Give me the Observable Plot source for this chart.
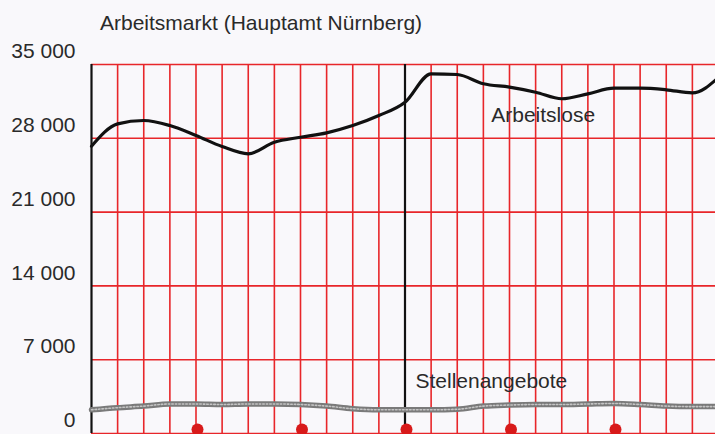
<!DOCTYPE html>
<html>
<head>
<meta charset="utf-8">
<script src="https://cdn.jsdelivr.net/npm/d3@7"></script>
<script src="https://cdn.jsdelivr.net/npm/@observablehq/plot@0.6"></script>
<style>
  html, body { margin: 0; padding: 0; background: #f9f8fb; }
  body { width: 715px; height: 434px; overflow: hidden; font-family: "Liberation Sans", Arial, sans-serif; }
  #title { position: relative; height: 40px; }
  #title span { position: absolute; left: 100px; top: 12px; font-size: 21px; line-height: 21px; color: #2a2a2a; white-space: nowrap; }
  #chart svg { display: block; }
</style>
</head>
<body>
<div id="title"><span>Arbeitsmarkt (Hauptamt Nürnberg)</span></div>
<div id="chart"></div>
<script>
// Months (0 = start of first year, 12 = start of second year, 24 = start of third)
const months = [0,1,2,3,4,5,6,7,8,9,10,11,12,13,14,15,16,17,18,19,20,21,22,23,24];
// Arbeitslose (unemployed)
const arbeitslose = [27250, 29370, 29690, 29210, 28270, 27220, 26530, 27630, 28100, 28520, 29210, 30160, 31420, 34120, 34050, 33170, 32850, 32370, 31750, 32220, 32750, 32750, 32600, 32310, 33770];
// Stellenangebote (job offers)
const stellenangebote = [2250, 2450, 2600, 2800, 2800, 2750, 2800, 2800, 2750, 2600, 2350, 2250, 2250, 2250, 2300, 2600, 2700, 2750, 2750, 2800, 2850, 2750, 2600, 2550, 2550];
// Axis ticks
const yTicks = [0, 7000, 14000, 21000, 28000, 35000];
const monthLines = [1,2,3,4,5,6,7,8,9,10,11,13,14,15,16,17,18,19,20,21,22,23];
const yearLines = [0, 12];
const dotMonths = [4, 8, 12, 16, 20];
const seriesLabels = ["Arbeitslose", "Stellenangebote"];

const rowsA = months.map((m, i) => ({m, v: arbeitslose[i]}));
const rowsS = months.map((m, i) => ({m, v: stellenangebote[i]}));

const loc = d3.formatLocale({decimal: ",", thousands: " ", grouping: [3], currency: ["", ""]});
const fmt = loc.format(",");

const RED = "#e8262a";

const chart = Plot.plot({
  width: 715,
  height: 394,
  marginTop: 24,
  marginBottom: 1,
  marginLeft: 91,
  marginRight: 0,
  style: {background: "#f9f8fb", fontFamily: "Liberation Sans, Arial, sans-serif", overflow: "hidden"},
  x: {domain: [0, 24], range: [91, 718], axis: null},
  y: {domain: [0, 35000], axis: null},
  marks: [
    Plot.ruleY(yTicks, {stroke: RED, strokeWidth: 1.6}),
    Plot.ruleX(monthLines, {stroke: RED, strokeWidth: 1.6}),
    Plot.ruleX(yearLines, {stroke: "#111", strokeWidth: 2.2}),
    Plot.axisY(yTicks, {
      anchor: "left", label: null, tickSize: 0, tickPadding: 16, dy: -13,
      tickFormat: fmt, fontSize: 21, fill: "#2a2a2a"
    }),
    Plot.line(rowsS, {x: "m", y: "v", stroke: "#7a7a7a", strokeWidth: 5.5, curve: "monotone-x"}),
    Plot.line(rowsS, {x: "m", y: "v", stroke: "#c4c4c4", strokeWidth: 1.6, strokeDasharray: "1.5,2", curve: "monotone-x"}),
    Plot.line(rowsA, {x: "m", y: "v", stroke: "#111", strokeWidth: 3.2, curve: "monotone-x"}),
    Plot.dot(dotMonths, {x: d => d, y: 0, r: 6, fill: "#d81a1a", dx: 1.5, dy: -4}),
    Plot.text([seriesLabels[0]], {x: 15.3, y: 30200, text: d => d, textAnchor: "start", fontSize: 21, fill: "#2a2a2a"}),
    Plot.text([seriesLabels[1]], {x: 12.4, y: 5000, text: d => d, textAnchor: "start", fontSize: 21, fill: "#2a2a2a"})
  ]
});
document.getElementById("chart").appendChild(chart);
</script>
</body>
</html>
